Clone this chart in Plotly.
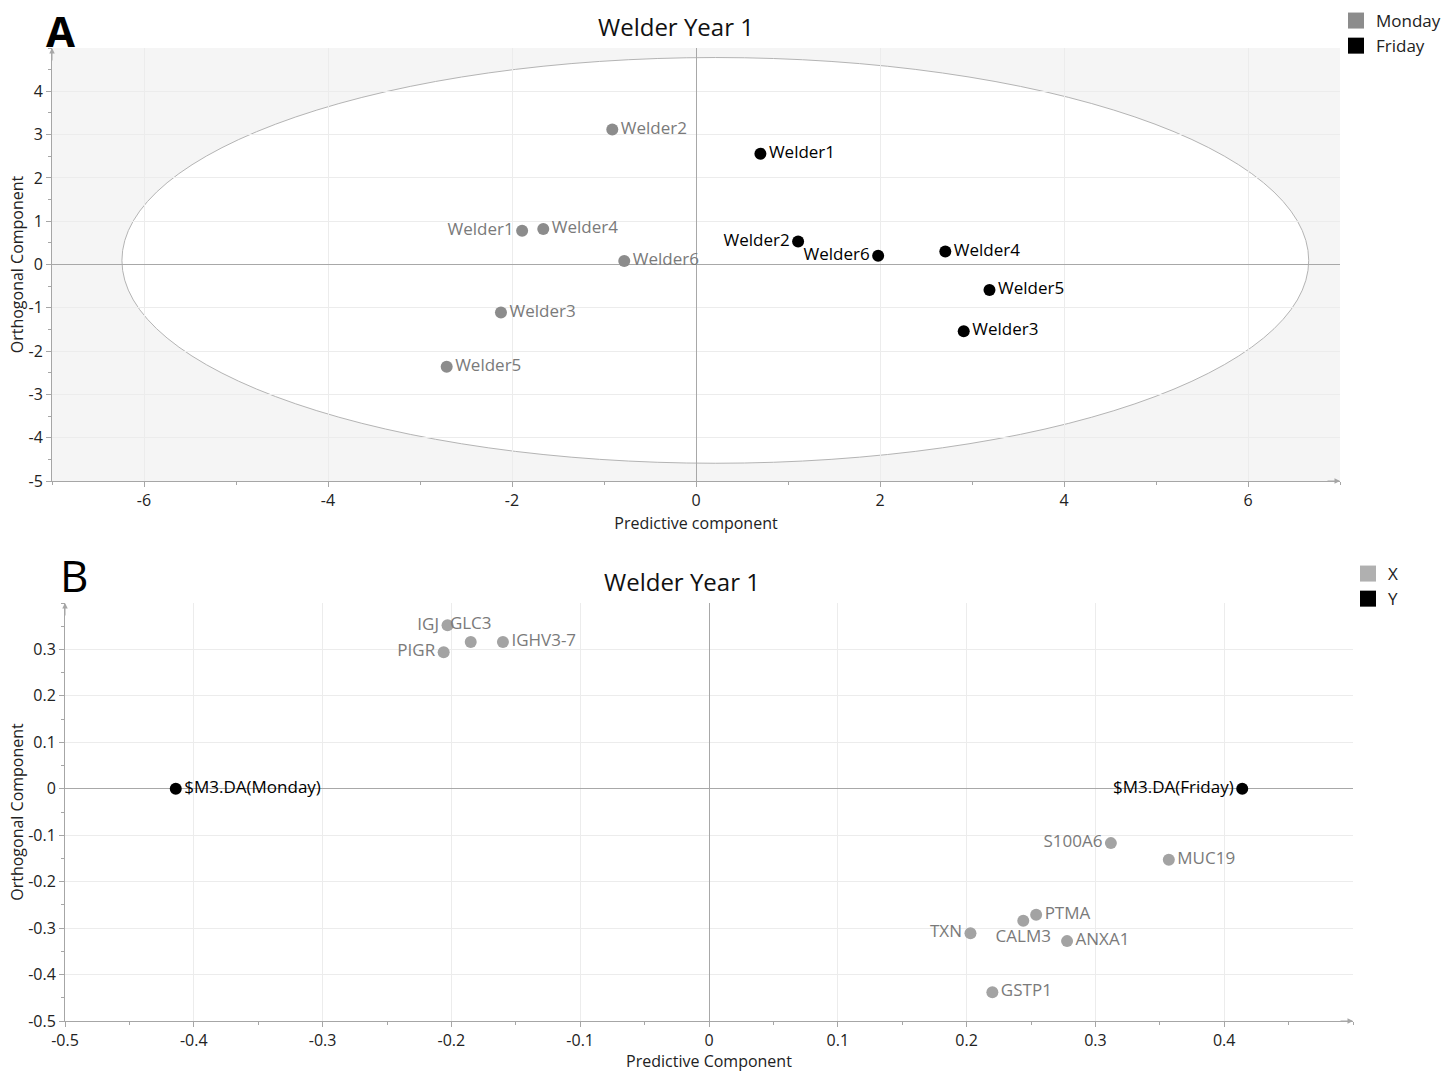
import plotly.graph_objects as go

# ---------------- Data ----------------
# Panel A: scores
monday_labels = ["Welder1", "Welder2", "Welder3", "Welder4", "Welder5", "Welder6"]
monday_x = [-1.89, -0.91, -2.12, -1.66, -2.71, -0.78]
monday_y = [0.78, 3.12, -1.11, 0.82, -2.36, 0.08]
monday_pos = ["middle left", "middle right", "middle right", "middle right", "middle right", "middle right"]

friday_labels = ["Welder1", "Welder2", "Welder3", "Welder4", "Welder5", "Welder6"]
friday_x = [0.70, 1.11, 2.91, 2.71, 3.19, 1.98]
friday_y = [2.56, 0.53, -1.54, 0.30, -0.59, 0.20]
friday_pos = ["middle right", "middle left", "middle right", "middle right", "middle right", "middle left"]

# Hotelling ellipse bounds (panel A)
ellipse_x = [-6.24, 6.66]
ellipse_y = [-4.59, 4.78]

# Panel B: loadings
x_labels = ["IGJ", "GLC3", "IGHV3-7", "PIGR", "S100A6", "MUC19", "PTMA", "CALM3", "TXN", "ANXA1", "GSTP1"]
x_px = [-0.203, -0.185, -0.160, -0.206, 0.312, 0.357, 0.254, 0.244, 0.203, 0.278, 0.220]
x_py = [0.352, 0.316, 0.316, 0.294, -0.117, -0.153, -0.271, -0.284, -0.311, -0.328, -0.438]
x_pos = ["middle left", "top center", "middle right", "middle left", "middle left", "middle right",
         "middle right", "bottom center", "middle left", "middle right", "middle right"]

y_labels = ["$M3.DA(Monday)", "$M3.DA(Friday)"]
y_px = [-0.414, 0.414]
y_py = [0.0, 0.0]
y_pos = ["middle right", "middle left"]

# Ticks
a_xticks = [-6, -4, -2, 0, 2, 4, 6]
a_xtext = ["-6", "-4", "-2", "0", "2", "4", "6"]
a_yticks = [-5, -4, -3, -2, -1, 0, 1, 2, 3, 4]
a_ytext = ["-5", "-4", "-3", "-2", "-1", "0", "1", "2", "3", "4"]
b_xticks = [-0.5, -0.4, -0.3, -0.2, -0.1, 0, 0.1, 0.2, 0.3, 0.4]
b_xtext = ["-0.5", "-0.4", "-0.3", "-0.2", "-0.1", "0", "0.1", "0.2", "0.3", "0.4"]
b_yticks = [-0.5, -0.4, -0.3, -0.2, -0.1, 0, 0.1, 0.2, 0.3]
b_ytext = ["-0.5", "-0.4", "-0.3", "-0.2", "-0.1", "0", "0.1", "0.2", "0.3"]

# ---------------- Layout geometry ----------------
W, H = 1450, 1072
ML, MR, MT, MB = 52, 97, 48, 51
PW, PH = W - ML - MR, H - MT - MB

def px_x(px):
    return (px - ML) / PW

def px_y(py):
    return (H - MB - py) / PH

FONT = "Open Sans"
GREY = "#8c8c8c"
GREY_T = "#7a7a7a"
XGREY = "#a3a3a3"
AXC = "#a6a6a6"
GRID = "#ececec"
LBL = 17

fig = go.Figure()

# Panel A traces
fig.add_trace(go.Scatter(x=monday_x, y=monday_y, text=monday_labels, mode="markers+text",
                         textposition=monday_pos, textfont=dict(color=GREY_T, size=LBL, family=FONT),
                         marker=dict(size=12, color=GREY), showlegend=False, xaxis="x", yaxis="y"))
fig.add_trace(go.Scatter(x=friday_x, y=friday_y, text=friday_labels, mode="markers+text",
                         textposition=friday_pos, textfont=dict(color="black", size=LBL, family=FONT),
                         marker=dict(size=12, color="black"), showlegend=False, xaxis="x", yaxis="y"))
# Panel B traces
fig.add_trace(go.Scatter(x=x_px, y=x_py, text=x_labels, mode="markers+text",
                         textposition=x_pos, textfont=dict(color=GREY_T, size=LBL, family=FONT),
                         marker=dict(size=12, color=XGREY), showlegend=False, xaxis="x2", yaxis="y2"))
fig.add_trace(go.Scatter(x=y_px, y=y_py, text=y_labels, mode="markers+text",
                         textposition=y_pos, textfont=dict(color="black", size=LBL, family=FONT),
                         marker=dict(size=12, color="black"), showlegend=False, xaxis="x2", yaxis="y2"))

# Legend entries
for name, col, lg, xa, ya in [("Monday", GREY, "legend", "x", "y"), ("Friday", "black", "legend", "x", "y"),
                              ("X", "#b0b0b0", "legend2", "x2", "y2"), ("Y", "black", "legend2", "x2", "y2")]:
    fig.add_trace(go.Scatter(x=[None], y=[None], mode="markers", name=name, legend=lg,
                             marker=dict(symbol="square", size=16, color=col), xaxis=xa, yaxis=ya))

# Shapes: grey background and white ellipse for panel A
shapes = [
    dict(type="rect", xref="x domain", yref="y domain", x0=0, x1=1, y0=0, y1=1,
         fillcolor="#f5f5f5", line=dict(width=0), layer="below"),
    dict(type="circle", xref="x", yref="y", x0=ellipse_x[0], x1=ellipse_x[1],
         y0=ellipse_y[0], y1=ellipse_y[1], fillcolor="white", line=dict(color="#b4b4b4", width=1),
         layer="below"),
]

axis_common = dict(showline=True, linecolor=AXC, linewidth=1, ticks="outside", ticklen=5, tickcolor=AXC,
                   showgrid=True, gridcolor=GRID, gridwidth=1, zeroline=True, zerolinecolor="#a8a8a8",
                   zerolinewidth=1, tickfont=dict(size=16, family=FONT, color="#222"),
                   title_font=dict(size=16, family=FONT, color="#222"), mirror=False, automargin=False)

fig.update_layout(
    width=W, height=H, margin=dict(l=ML, r=MR, t=MT, b=MB, autoexpand=False),
    paper_bgcolor="white", plot_bgcolor="white",
    font=dict(family=FONT, size=16, color="#222"),
    shapes=shapes,
    xaxis=dict(**axis_common, domain=[0, 1288 / PW], range=[-7, 7], anchor="y",
               tickmode="array", tickvals=a_xticks, ticktext=a_xtext,
               minor=dict(dtick=1, ticks="outside", ticklen=3, tickcolor=AXC, showgrid=False),
               title=dict(text="Predictive component", standoff=7)),
    yaxis=dict(**axis_common, domain=[px_y(481), 1], range=[-5, 5], anchor="x",
               tickmode="array", tickvals=a_yticks, ticktext=a_ytext,
               minor=dict(dtick=0.5, ticks="outside", ticklen=3, tickcolor=AXC, showgrid=False),
               title=dict(text="Orthogonal Component", standoff=0)),
    xaxis2=dict(**axis_common, domain=[13 / PW, 1], range=[-0.5, 0.5], anchor="y2",
                tickmode="array", tickvals=b_xticks, ticktext=b_xtext,
                minor=dict(dtick=0.05, ticks="outside", ticklen=3, tickcolor=AXC, showgrid=False),
                title=dict(text="Predictive Component", standoff=9)),
    yaxis2=dict(**axis_common, domain=[0, px_y(603)], range=[-0.5, 0.4], anchor="x2",
                tickmode="array", tickvals=b_yticks, ticktext=b_ytext,
                minor=dict(dtick=0.05, ticks="outside", ticklen=3, tickcolor=AXC, showgrid=False),
                title=dict(text="Orthogonal Component", standoff=0)),
    legend=dict(x=px_x(1336), y=px_y(3), xanchor="left", yanchor="top", xref="paper", yref="paper",
                font=dict(size=17, family=FONT, color="#222"), bgcolor="rgba(0,0,0,0)",
                itemwidth=30, tracegroupgap=0),
    legend2=dict(x=px_x(1348), y=px_y(556), xanchor="left", yanchor="top", xref="paper", yref="paper",
                 font=dict(size=17, family=FONT, color="#222"), bgcolor="rgba(0,0,0,0)",
                 itemwidth=30, tracegroupgap=0),
)

annotations = [
    dict(text="Welder Year 1", x=px_x(676), y=px_y(27), xref="paper", yref="paper", showarrow=False,
         xanchor="center", yanchor="middle", font=dict(size=24, family=FONT, color="#111")),
    dict(text="Welder Year 1", x=px_x(682), y=px_y(581), xref="paper", yref="paper", showarrow=False,
         xanchor="center", yanchor="middle", font=dict(size=24, family=FONT, color="#111")),
    dict(text="<b>A</b>", x=px_x(60), y=px_y(30), xref="paper", yref="paper", showarrow=False,
         xanchor="center", yanchor="middle", font=dict(size=42, family=FONT, color="black")),
    dict(text="B", x=px_x(74), y=px_y(575), xref="paper", yref="paper", showarrow=False,
         xanchor="center", yanchor="middle", font=dict(size=44, family=FONT, color="black")),
    # axis arrows
    dict(x=7, y=-5, xref="x", yref="y", ax=-14, ay=0, showarrow=True, arrowhead=2, arrowsize=1.1,
         arrowwidth=1, arrowcolor=AXC, text=""),
    dict(x=-7, y=5, xref="x", yref="y", ax=0, ay=14, showarrow=True, arrowhead=2, arrowsize=1.1,
         arrowwidth=1, arrowcolor=AXC, text=""),
    dict(x=0.5, y=-0.5, xref="x2", yref="y2", ax=-14, ay=0, showarrow=True, arrowhead=2, arrowsize=1.1,
         arrowwidth=1, arrowcolor=AXC, text=""),
    dict(x=-0.5, y=0.4, xref="x2", yref="y2", ax=0, ay=14, showarrow=True, arrowhead=2, arrowsize=1.1,
         arrowwidth=1, arrowcolor=AXC, text=""),
]
fig.update_layout(annotations=annotations)

fig.write_html("out.html", config={"displayModeBar": False},
               post_script="document.body.style.margin='0px';")
